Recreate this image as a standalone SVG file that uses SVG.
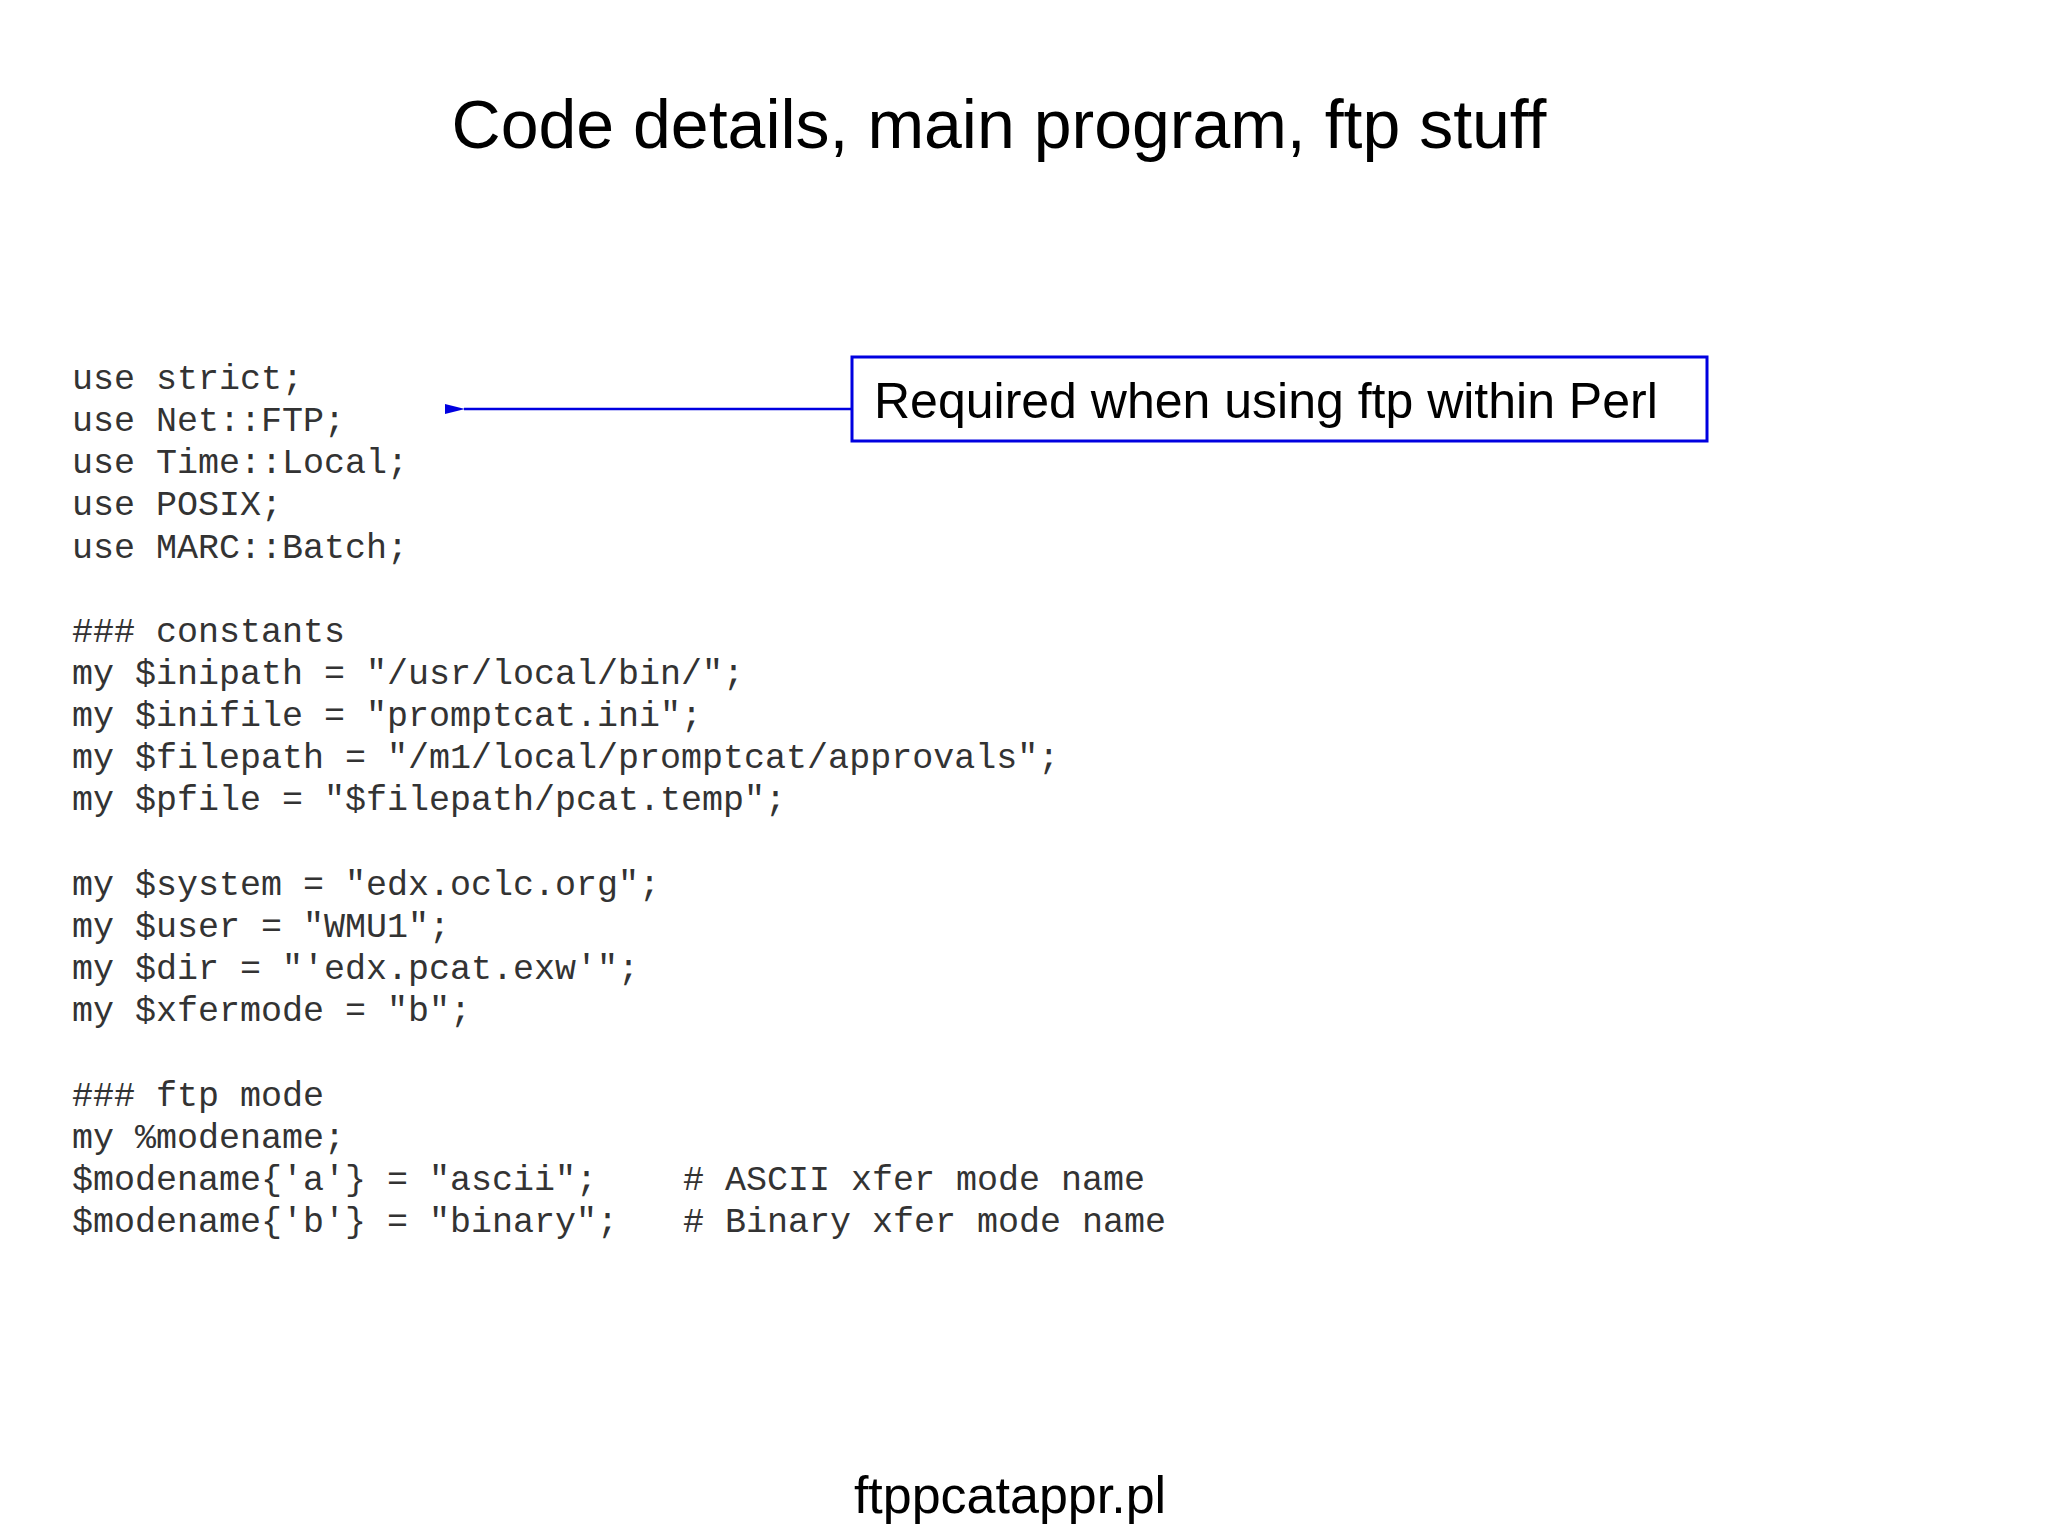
<svg xmlns="http://www.w3.org/2000/svg" width="2048" height="1536" viewBox="0 0 2048 1536">
<style>
.code{font-family:"Liberation Mono","Courier New",monospace;font-size:35px;fill:#333}
.sans{font-family:"Liberation Sans",Arial,sans-serif;fill:#000}
</style>
<defs><marker id="ah" markerWidth="20" markerHeight="14" refX="1" refY="7" orient="auto" markerUnits="userSpaceOnUse"><path d="M20,2 L0,7 L20,12 Z" fill="#0000e0"/></marker></defs>
<rect width="2048" height="1536" fill="#fff"/>
<text class="sans" x="999" y="148" font-size="68" text-anchor="middle">Code details, main program, ftp stuff</text>
<g id="code" class="code">
<text x="72" y="389">use strict;</text>
<text x="72" y="431">use Net::FTP;</text>
<text x="72" y="473">use Time::Local;</text>
<text x="72" y="515">use POSIX;</text>
<text x="72" y="558">use MARC::Batch;</text>
<text x="72" y="642">### constants</text>
<text x="72" y="684">my $inipath = "/usr/local/bin/";</text>
<text x="72" y="726">my $inifile = "promptcat.ini";</text>
<text x="72" y="768">my $filepath = "/m1/local/promptcat/approvals";</text>
<text x="72" y="810">my $pfile = "$filepath/pcat.temp";</text>
<text x="72" y="895">my $system = "edx.oclc.org";</text>
<text x="72" y="937">my $user = "WMU1";</text>
<text x="72" y="979">my $dir = "'edx.pcat.exw'";</text>
<text x="72" y="1021">my $xfermode = "b";</text>
<text x="72" y="1106">### ftp mode</text>
<text x="72" y="1148">my %modename;</text>
<text x="72" y="1190">$modename{'a'} = "ascii";<tspan x="683"># ASCII xfer mode name</tspan></text>
<text x="72" y="1232">$modename{'b'} = "binary";<tspan x="683"># Binary xfer mode name</tspan></text>
</g>
<g id="note">
<rect x="852" y="357" width="855" height="84" fill="#fff" stroke="#0000e0" stroke-width="3"/>
<text class="sans" x="874" y="418" font-size="50">Required when using ftp within Perl</text>
</g>
<g id="connectors">
<line x1="852" y1="409" x2="464" y2="409" stroke="#0000e0" stroke-width="2.5" marker-end="url(#ah)"/>
</g>
<text class="sans" x="1010" y="1513" font-size="52" text-anchor="middle">ftppcatappr.pl</text>
</svg>
